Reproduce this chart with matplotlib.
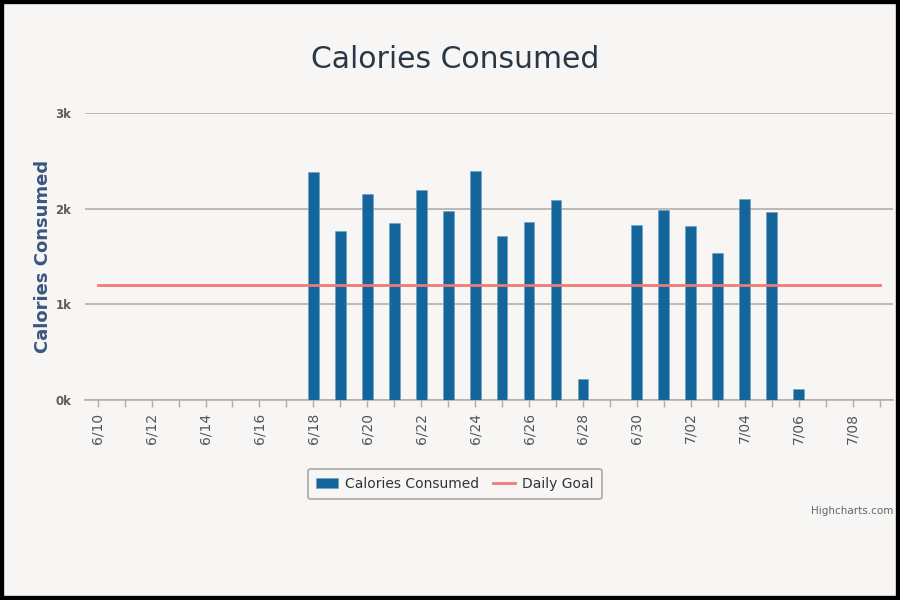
import matplotlib.pyplot as plt
from matplotlib.patches import Rectangle

# one entry per day shown on the x axis
days = ['6/10', '6/11', '6/12', '6/13', '6/14', '6/15', '6/16', '6/17', '6/18', '6/19',
        '6/20', '6/21', '6/22', '6/23', '6/24', '6/25', '6/26', '6/27', '6/28', '6/29',
        '6/30', '7/01', '7/02', '7/03', '7/04', '7/05', '7/06', '7/07', '7/08', '7/09']
tick_labels = days[::2]

# days that have a logged value
bar_days = ['6/18', '6/19', '6/20', '6/21', '6/22', '6/23', '6/24', '6/25', '6/26', '6/27',
            '6/28', '6/30', '7/01', '7/02', '7/03', '7/04', '7/05', '7/06']
calories = [2380, 1765, 2155, 1850, 2200, 1975, 2390, 1710, 1865, 2090,
            220, 1825, 1990, 1815, 1535, 2100, 1965, 120]

daily_goal = 1200

bar_color = '#13659a'
goal_color = '#f07a76'
grid_color = '#b3aea9'
bg = '#f7f6f5'

fig = plt.figure(figsize=(9, 6), dpi=100, facecolor=bg)
# black frame round the picture
fig.patches.append(Rectangle((0, 0), 1, 1, transform=fig.transFigure,
                             fill=False, edgecolor='black', linewidth=6))

ax = fig.add_axes([85 / 900, 1 - 400 / 600, 808 / 900, 287 / 600])
ax.set_facecolor(bg)

xs = [days.index(d) for d in bar_days]
bars = ax.bar(xs, calories, width=0.4, color=bar_color, edgecolor='#6c9ec0',
              linewidth=0.4, zorder=3, label='Calories Consumed')
goal, = ax.plot([0, len(days) - 1], [daily_goal, daily_goal], color=goal_color,
                linewidth=2, zorder=4, label='Daily Goal')

ax.set_xlim(-0.47, len(days) - 0.5)
ax.set_ylim(0, 3000)

ax.set_yticks([0, 1000, 2000, 3000])
ax.set_yticklabels(['0k', '1k', '2k', '3k'])
ax.tick_params(axis='y', length=0, pad=10, labelsize=8.5, labelcolor='#5f5a55')
for lbl in ax.get_yticklabels():
    lbl.set_fontweight('bold')
ax.grid(axis='y', color=grid_color, linewidth=1.2, zorder=0)

ax.set_xticks(range(len(days)))
ax.set_xticklabels([d if d in tick_labels else '' for d in days], rotation=90)
ax.tick_params(axis='x', length=5, width=1, color=grid_color, pad=4,
               labelsize=10, labelcolor='#555555')

for side in ['top', 'right', 'left']:
    ax.spines[side].set_visible(False)
ax.spines['bottom'].set_color(grid_color)
ax.spines['bottom'].set_linewidth(1.2)

ax.set_ylabel('Calories Consumed', fontsize=13, fontweight='bold',
              color='#3b5680', va='center')
ax.yaxis.set_label_coords((43 - 85) / 808, 0.5)

fig.text(455 / 900, 1 - 60 / 600, 'Calories Consumed', ha='center', va='center',
         fontsize=21.5, color='#283848')

leg = fig.legend([bars, goal], ['Calories Consumed', 'Daily Goal'],
                 loc='center', bbox_to_anchor=(455 / 900, 1 - 484 / 600),
                 ncol=2, fontsize=10, frameon=True, fancybox=True,
                 edgecolor='#9a9590', facecolor=bg, handlelength=1.6,
                 handletextpad=0.5, columnspacing=1.0, borderpad=0.6)
leg.get_frame().set_linewidth(1.2)
for t in leg.get_texts():
    t.set_color('#333333')

fig.text(893 / 900, 1 - 511 / 600, 'Highcharts.com', ha='right', va='center',
         fontsize=7.5, color='#666666')

fig.savefig('out.png', dpi=100, facecolor=bg)
